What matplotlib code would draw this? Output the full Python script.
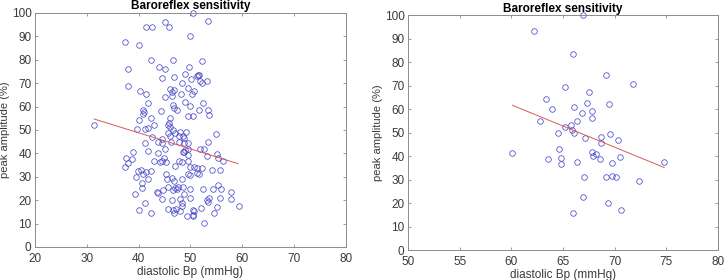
import matplotlib
matplotlib.use("Agg")
import matplotlib.pyplot as plt
import numpy as np

plt.rcParams["font.family"] = ["Liberation Sans", "DejaVu Sans"]

# left panel: all recordings (diastolic Bp, peak amplitude)
left_bp = [
    50.5, 41.4, 42.5, 45.1, 45.9, 53.3, 50.0, 37.4, 40.1, 52.3, 42.4, 46.6,
    38.0, 43.9, 45.1, 49.7, 44.6, 46.8, 51.4, 48.9, 50.2, 51.2, 51.6, 51.8,
    52.3, 53.2, 48.4, 37.9, 40.3, 41.5, 46.0, 46.9, 46.4, 49.5, 50.7, 48.1,
    50.3, 45.0, 46.5, 52.4, 41.9, 49.0, 46.6, 49.9, 46.9, 47.4, 40.9, 41.0,
    40.9, 44.3, 51.6, 53.3, 53.6, 49.6, 50.5, 42.4, 40.1, 46.0, 31.4, 45.9,
    43.0, 45.7, 46.0, 41.8, 41.3, 39.7, 46.6, 47.1, 48.0, 49.1, 45.6, 46.0,
    47.8, 48.6, 55.0, 42.5, 48.8, 44.5,
    41.3, 43.7, 44.6, 46.3, 47.8, 48.8, 49.5, 53.4, 38.9, 41.9, 43.8, 45.0,
    48.5, 49.0, 49.6, 48.8, 51.8, 52.7, 53.1, 49.6, 55.2, 55.4, 56.3, 37.6,
    38.0, 38.8, 37.3, 43.0, 44.1, 44.5, 44.9, 45.2, 47.1, 47.8, 48.4, 49.6,
    50.0, 50.6, 51.3, 52.3, 54.1, 55.7, 39.8, 40.5, 41.4, 42.3, 39.4, 40.8,
    41.9, 40.7, 45.3, 45.4, 46.5, 46.8, 48.3, 49.6, 49.9, 51.2, 51.7, 40.7,
    43.6, 43.7, 44.8, 45.7, 46.6, 47.0, 47.4, 47.6, 48.5, 49.9, 52.4, 54.4,
    55.3, 55.9, 57.9, 39.3, 48.8, 44.6, 46.4, 47.9, 50.0, 48.3, 41.3, 53.2,
    53.5, 53.4, 55.7, 57.8, 48.4, 40.1, 45.7, 46.6, 47.3, 48.0, 46.8, 42.4,
    50.5, 50.7, 50.5, 50.5, 49.3, 52.1, 54.5, 55.2, 59.3, 52.7,
]
left_amp = [
    100.0, 93.9, 93.9, 96.0, 94.0, 96.4, 90.0, 87.4, 86.4, 79.3, 80.0, 79.9,
    75.9, 76.9, 76.0, 76.9, 72.0, 72.7, 73.3, 74.0, 71.9, 73.0, 73.4, 71.0,
    70.0, 71.1, 70.0, 68.7, 66.7, 65.4, 67.4, 67.1, 66.3, 68.0, 66.7, 65.4,
    65.4, 64.1, 64.6, 61.4, 61.4, 61.9, 60.6, 60.3, 59.3, 58.4, 58.4, 57.7,
    57.0, 57.9, 58.4, 58.6, 56.3, 56.1, 56.1, 55.3, 54.4, 55.0, 52.3, 53.1,
    52.0, 52.1, 51.1, 50.7, 50.3, 50.3, 50.0, 48.6, 49.0, 49.0, 48.6, 47.4,
    47.3, 47.6, 48.1, 47.0, 46.4, 46.0,
    44.6, 44.7, 44.6, 45.0, 44.9, 44.6, 44.3, 45.0, 40.7, 41.1, 40.0, 41.7,
    40.7, 41.4, 41.9, 40.7, 41.7, 41.9, 38.9, 39.4, 39.7, 37.9, 36.9, 37.9,
    36.0, 37.4, 34.3, 36.7, 36.4, 36.9, 37.9, 36.3, 34.6, 36.7, 36.4, 36.7,
    34.0, 34.3, 33.9, 33.9, 32.7, 32.7, 32.4, 32.9, 32.1, 32.6, 30.0, 31.0,
    28.9, 27.4, 31.0, 28.9, 29.6, 28.3, 28.9, 31.0, 30.7, 31.4, 31.1, 25.4,
    23.6, 22.9, 24.3, 25.7, 24.3, 25.0, 24.7, 25.7, 25.7, 24.7, 24.7, 24.7,
    26.4, 24.7, 23.6, 22.6, 22.6, 20.3, 20.0, 20.3, 21.0, 18.9, 18.6, 20.0,
    21.1, 19.3, 20.9, 20.3, 17.7, 16.0, 16.4, 15.7, 16.1, 15.3, 14.4, 14.3,
    16.0, 15.3, 13.6, 13.1, 13.3, 16.7, 14.6, 17.1, 17.6, 10.1,
]
left_fit_x = [31.4, 59.2]
left_fit_y = [54.7, 35.6]

# right panel
right_bp = [
    62.2, 66.9, 66.0, 69.2, 71.8, 65.2, 67.5, 63.4, 67.3, 69.5, 66.1, 63.9,
    67.8, 66.8, 67.8, 66.4, 62.8, 65.2, 65.8, 65.9, 66.1, 64.5, 69.6, 68.7,
    67.1, 70.3, 68.7, 60.1, 64.6, 63.6, 64.8, 64.8, 66.4, 67.8, 67.9, 68.2,
    68.6, 69.7, 70.5, 74.8, 67.0, 69.2, 69.7, 70.1, 72.4, 66.9, 69.4, 70.6,
    66.0,
]
right_amp = [
    93.3, 100.0, 83.3, 74.6, 70.7, 69.5, 67.3, 64.4, 62.6, 62.0, 60.8, 59.9,
    59.2, 58.2, 56.1, 54.7, 55.1, 52.3, 53.1, 51.1, 49.7, 49.9, 49.4, 48.1,
    47.5, 46.9, 45.4, 41.3, 42.8, 38.9, 39.3, 36.7, 37.6, 41.8, 40.1, 40.7,
    38.9, 36.9, 39.4, 37.3, 31.2, 30.9, 31.5, 31.2, 29.2, 22.7, 19.9, 17.0,
    15.9,
]
right_fit_x = [60.1, 74.8]
right_fit_y = [61.6, 35.1]

TICK_COLOR = "#3a3a3a"
AXIS_COLOR = "#8c8c8c"


def style_axes(ax, xlim, xticks):
    ax.set_xlim(xlim)
    ax.set_ylim(0, 100)
    ax.set_xticks(xticks)
    ax.set_yticks(range(0, 101, 10))
    ax.tick_params(direction="in", length=2.5, width=0.6, colors=AXIS_COLOR,
                   labelcolor=TICK_COLOR, labelsize=8.5, top=True, right=True)
    ax.tick_params(axis="x", pad=4)
    ax.tick_params(axis="y", pad=2.5)
    for s in ax.spines.values():
        s.set_color(AXIS_COLOR)
        s.set_linewidth(0.7)
    ax.set_xlabel("diastolic Bp (mmHg)", fontsize=8.5, color=TICK_COLOR, labelpad=1)
    ax.set_ylabel("peak amplitude (%)", fontsize=8, color=TICK_COLOR, labelpad=1)
    ax.set_title("Baroreflex sensitivity", fontsize=8.5, fontweight="bold", pad=2.5)


fig = plt.figure(figsize=(7.28, 2.8), dpi=100)
ax1 = fig.add_axes([0.048, 0.118, 0.4272, 0.8357])
ax2 = fig.add_axes([0.5604, 0.1071, 0.4258, 0.8393])

for ax, bp, amp, fx, fy in [(ax1, left_bp, left_amp, left_fit_x, left_fit_y),
                            (ax2, right_bp, right_amp, right_fit_x, right_fit_y)]:
    ax.plot(bp, amp, "o", mfc="none", mec="#4a4ac8", ms=4.0, mew=0.55, clip_on=False)
    ax.plot(fx, fy, "-", color="#d85a5a", lw=0.7)

style_axes(ax1, (20, 80), range(20, 81, 10))
style_axes(ax2, (50, 80), range(50, 81, 5))

fig.savefig("out.png", dpi=100)
